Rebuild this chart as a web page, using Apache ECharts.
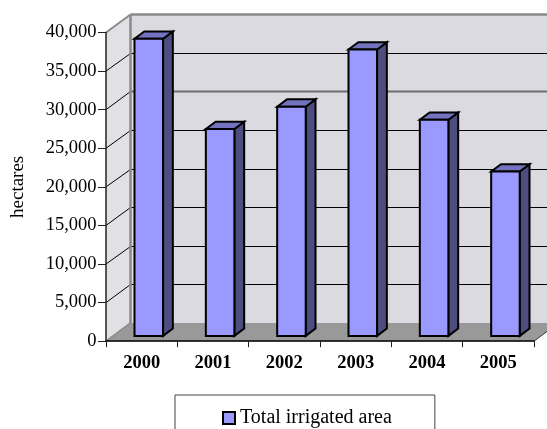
<!DOCTYPE html>
<html><head><meta charset="utf-8">
<style>html,body{margin:0;padding:0;background:#fff}#c{width:547px;height:429px}</style>
<script src="https://cdn.jsdelivr.net/npm/echarts@6/dist/echarts.min.js"></script>
</head><body><div id="c"></div>
<script>
const categories = ['2000','2001','2002','2003','2004','2005'];
const irrigatedArea = [38500,26800,29700,37100,28000,21300];
const yTicks = [5000,10000,15000,20000,25000,30000,35000,40000];
const seriesName = 'Total irrigated area';
const DX = 24.5, DY = 18.3;
const fz0 = 0.29, fz1 = 0.69, barFrac = 0.4;
const font = '"Liberation Serif","Times New Roman",serif';
const chart = echarts.init(document.getElementById('c'), null, {renderer:'canvas'});
const poly = (pts, fill, stroke, lw) => ({type:'polygon', shape:{points:pts}, style:{fill:fill, stroke:stroke||null, lineWidth:lw||0, lineJoin:'miter'}});
const line = (a,b,stroke,lw) => ({type:'line', shape:{x1:a[0],y1:a[1],x2:b[0],y2:b[1]}, style:{stroke:stroke, lineWidth:lw, fill:null}});
chart.setOption({
  animation:false,
  grid:{left:106,top:32.5,width:428,height:308.7,containLabel:false},
  legend:{
    show:true, left:175, top:395, orient:'horizontal',
    data:[{name:seriesName, icon:'rect', itemStyle:{color:'#9999FF',borderColor:'#000',borderWidth:2}}],
    itemWidth:12,itemHeight:12,itemGap:6,
    padding:[13,43,30,47],
    borderColor:'#444',borderWidth:1,backgroundColor:'#fff',
    textStyle:{fontFamily:font,fontSize:20,color:'#000'}
  },
  xAxis:{type:'category',data:categories,z:6,
    axisLine:{lineStyle:{color:'#000',width:1.5}},
    axisTick:{show:true,alignWithLabel:false,length:6,lineStyle:{color:'#222',width:1}},
    axisLabel:{fontFamily:font,fontSize:18.5,fontWeight:'bold',color:'#000',margin:13}
  },
  yAxis:{type:'value',min:0,max:40000,interval:5000,z:6,
    name:'hectares',nameLocation:'middle',nameGap:78,nameRotate:90,
    nameTextStyle:{fontFamily:font,fontSize:19,color:'#000'},
    axisLine:{show:true,lineStyle:{color:'#222',width:1.5}},
    axisTick:{show:true,length:8,lineStyle:{color:'#222',width:1}},
    splitLine:{show:false},
    axisLabel:{fontFamily:font,fontSize:18.5,color:'#000',margin:9.5,
      formatter:v=>v.toLocaleString('en-US')}
  },
  series:[
    {type:'custom',name:'walls',silent:true,z:1,clip:false,data:[0],encode:{x:-1,y:-1},
      renderItem(params,api){
        const c=params.coordSys, l=c.x,r=c.x+c.width,t=c.y,b=c.y+c.height;
        return {type:'group',children:[
          poly([[l,t],[l+DX,t-DY],[l+DX,b-DY],[l,b]],'#E0E0E5'),
          poly([[l+DX,t-DY],[r+DX,t-DY],[r+DX,b-DY],[l+DX,b-DY]],'#DBDAE0')
        ]};
      }},
    {type:'custom',name:'grid',silent:true,z:2,clip:false,data:yTicks,
      encode:{y:0},
      renderItem(params,api){
        const c=params.coordSys,l=c.x,r=c.x+c.width;
        const v=api.value(0);
        const y=api.coord([0,v])[1];
        const top=v===40000, gray=v===30000;
        const yb=Math.round(y-DY)+0.5;
        return {type:'group',children:[
          line([l,y],[l+DX,yb],top?'#8a8a8a':'#000',top?2:1),
          line([l+DX,yb],[r+DX,yb],top?'#8a8a8a':(gray?'#6e6e6e':'#000'),top?2.5:(gray?2:1))
        ]};
      }},
    {type:'custom',name:'floor',silent:true,z:3,clip:false,data:[0],encode:{x:-1,y:-1},
      renderItem(params,api){
        const c=params.coordSys,l=c.x,r=c.x+c.width,t=c.y,b=c.y+c.height;
        return {type:'group',children:[
          line([l+DX,t-DY],[l+DX,b-DY],'#8a8a8a',2.5),
          poly([[l,b],[r,b],[r+DX,b-DY],[l+DX,b-DY]],'#999999'),
          line([r,b],[r+DX,b-DY],'#333',1),
          line([l,b],[l+DX,b-DY],'#8a8a8a',1.5)
        ]};
      }},
    {type:'custom',name:seriesName,z:4,clip:false,
      itemStyle:{color:'#9999FF'},
      data:categories.map((c,i)=>[i,irrigatedArea[i]]),
      encode:{x:0,y:1},
      renderItem(params,api){
        const p=api.coord([api.value(0),api.value(1)]);
        const p0=api.coord([api.value(0),0]);
        const w=api.size([1,0])[0]*barFrac;
        const ox=DX*fz0, oy=-DY*fz0, dx=DX*(fz1-fz0), dy=-DY*(fz1-fz0);
        const x0=p[0]-w/2+ox, x1=p[0]+w/2+ox, yt=p[1]+oy, yb=p0[1]+oy;
        const S='#000',L=2;
        return {type:'group',children:[
          poly([[x1,yt],[x1+dx,yt+dy],[x1+dx,yb+dy],[x1,yb]],'#4D4D80',S,L),
          poly([[x0,yt],[x0+dx,yt+dy],[x1+dx,yt+dy],[x1,yt]],'#7373BF',S,L),
          poly([[x0,yt],[x1,yt],[x1,yb],[x0,yb]],'#9999FF',S,L)
        ]};
      }}
  ]
});
</script></body></html>
